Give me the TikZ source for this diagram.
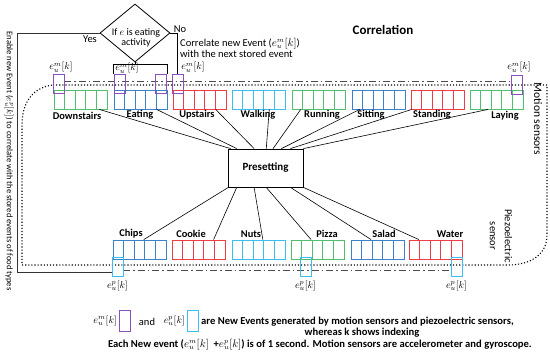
\documentclass[tikz,border=0pt]{standalone}
\usepackage{fontspec}
\setmainfont{Carlito}
\usetikzlibrary{calc,shapes.geometric}
\definecolor{cgreen}{RGB}{80,190,110}
\definecolor{cblue}{RGB}{60,130,200}
\definecolor{cred}{RGB}{240,60,70}
\definecolor{ccyan}{RGB}{60,190,240}
\definecolor{cpurple}{RGB}{140,80,190}
\begin{document}
\begin{tikzpicture}[x=1pt,y=-1pt,
  blk/.style={draw, line width=0.9pt, minimum width=53pt, minimum height=19pt, inner sep=0pt},
  evm/.style={draw=cpurple, line width=0.8pt, minimum width=11pt, minimum height=19pt, inner sep=0pt},
  evp/.style={draw=ccyan, line width=0.8pt, minimum width=11pt, minimum height=19pt, inner sep=0pt},
  lbl/.style={font=\fontsize{10.4}{12}\selectfont\bfseries, inner sep=0pt},
  elbl/.style={font=\fontsize{10}{11}\selectfont, inner sep=0pt},
  txt/.style={font=\fontsize{10.5}{9.5}\selectfont, inner sep=0pt},
  legt/.style={font=\fontsize{10.6}{12}\selectfont\bfseries, inner sep=0pt},
  conn/.style={line width=0.6pt, black},
  dotln/.style={line width=1.1pt, dotted, black},
  dashdot/.style={line width=0.9pt, black!70, dash pattern=on 7pt off 3pt on 1.5pt off 3pt},
]
\useasboundingbox (0,0) rectangle (550,352);

% dotted enclosure
\draw[dotln] (53,85) -- (547,85) -- (547,235) .. controls (547,255) and (530,265) .. (508,265) -- (22,265) -- (22,125) .. controls (22,100) and (35,87) .. (53,85);
% dash-dot lines
\draw[dashdot] (64,81) -- (510,81);
\draw[dashdot] (123,270) -- (451,270);

% top activity blocks
\foreach \n/\x/\c in {dn/54/cgreen, ea/114/cblue, up/173/cred, wa/232/ccyan, ru/292/cgreen, si/352/cblue, st/411/cred, la/470/cgreen} {
  \node[blk, draw=\c] (\n) at (\x+26.5,99.5) {};
  \foreach \i in {1,2,3,4} \draw[\c, line width=0.9pt] (\x+\i*10.6,90) -- (\x+\i*10.6,109);
}
% bottom food blocks
\foreach \n/\x/\c in {ch/113/cblue, co/172/cred, nu/232/ccyan, pi/291/cgreen, sa/351/cblue, wt/409/cred} {
  \node[blk, draw=\c] (\n) at (\x+26.5,249.5) {};
  \foreach \i in {1,2,3,4} \draw[\c, line width=0.9pt] (\x+\i*10.6,240) -- (\x+\i*10.6,259);
}

% activity labels
\node[lbl] (ldn) at (77,116) {Downstairs};
\node[lbl] (lea) at (140,115) {Eating};
\node[lbl] (lup) at (197,115) {Upstairs};
\node[lbl] (lwa) at (258,115) {Walking};
\node[lbl] (lru) at (322,115) {Running};
\node[lbl] (lsi) at (371,115) {Sitting};
\node[lbl] (lst) at (432,115) {Standing};
\node[lbl] (lla) at (505,116) {Laying};
% food labels
\node[lbl] (lch) at (131,234) {Chips};
\node[lbl] (lco) at (191,234) {Cookie};
\node[lbl] (lnu) at (251,234) {Nuts};
\node[lbl] (lpi) at (327,234) {Pizza};
\node[lbl] (lsa) at (384,234) {Salad};
\node[lbl] (lwt) at (450,234) {Water};

% new event boxes
\node[evm] (m1) at (58.5,83.5) {};
\node[evm] (m2a) at (119.5,83.5) {};
\node[evm] (m2b) at (161,83.5) {};
\node[evm] (m3) at (177.5,83.5) {};
\node[evm] (m4) at (517,84.5) {};
\node[evp] (p1) at (117.5,266.5) {};
\node[evp] (p2) at (305.5,266.5) {};
\node[evp] (p3) at (456.5,266.5) {};

\node[elbl] (em1) at (61,67.5) {$e_u^m[k]$};
\node[elbl] (em2) at (127,68.5) {$e_u^m[k]$};
\node[elbl] (em3) at (193,67.5) {$e_u^m[k]$};
\node[elbl] (em4) at (519,67.5) {$e_u^m[k]$};
\node[elbl] (ep1) at (117.5,286) {$e_u^p[k]$};
\node[elbl] (ep2) at (305.5,286) {$e_u^p[k]$};
\node[elbl] (ep3) at (456.5,286) {$e_u^p[k]$};

% decision
\node[diamond, draw, line width=0.8pt, minimum width=70pt, minimum height=58pt, inner sep=0pt] (dec) at (135,33) {};
\node[font=\fontsize{10}{10}\selectfont, align=center, inner sep=0pt] (dect) at (136,38) {If $e$ is eating\\activity};
\node[txt] (yes) at (90,39) {Yes};
\node[txt] (no) at (180,29) {No};
\coordinate (yc) at (17,33);
\coordinate (brk) at (135,64);
\draw[line width=0.8pt, black!80] (dec.west) -- (yc) |- ([yshift=-5.5pt]p1.west);
\draw[conn] (dec.east) -| (m3.north);
\draw[conn] (dec.south) -- (brk);
\draw[conn] (m2a.north west) -- (m2a.north west |- brk) -- (m2b.north east |- brk) -- (m2b.north east);

% texts
\node[font=\fontsize{13}{14}\selectfont\bfseries, inner sep=0pt] (corr) at (383,30) {Correlation};
\node[txt, anchor=west, align=left] (corrtxt) at (180,47.5) {Correlate new Event ($e_u^m[k]$)\\with the next stored event};
\node[font=\fontsize{8.6}{9}\selectfont, rotate=-90, inner sep=0pt] (enable) at (9,161) {Enable new Event ($e_u^p[k]$) to correlate with the stored events of food types};
\node[font=\fontsize{11.5}{12}\selectfont, rotate=-90, inner sep=0pt] (motion) at (538,119) {Motion sensors};
\node[font=\fontsize{10.5}{11}\selectfont, rotate=-90, inner sep=0pt, align=center] (piezo) at (501,236) {Piezoelectric\\[4pt]sensor};

% presetting
\node[draw, line width=0.8pt, minimum width=75pt, minimum height=38pt, font=\fontsize{11}{12}\selectfont\bfseries] (pre) at (265.5,168) {Presetting};
\foreach \n/\a/\b in {dn/0.85/0.04, ea/0.8/0.12, up/0.8/0.35, wa/0.7/0.51, ru/0.17/0.6, si/0.15/0.71, st/0.02/0.83, la/0.34/1.0}
  \draw[conn] ($(\n.south west)!\a!(\n.south east)$) -- ($(pre.north west)!\b!(pre.north east)$);
\foreach \n/\a/\b in {ch/0.58/0.01, co/0.78/0.12, nu/0.58/0.35, pi/0.38/0.51, sa/0.38/0.83, wt/0.19/1.0}
  \draw[conn] ($(\n.north west)!\a!(\n.north east)$) -- ($(pre.south west)!\b!(pre.south east)$);

% legend
\node[elbl, anchor=east] (lgm) at (117,321) {$e_u^m[k]$};
\node[evm, minimum height=21pt] (lgbm) at (124.5,320.5) {};
\node[txt] (lgand) at (147,322) {and};
\node[elbl, anchor=east] (lgp) at (185,321) {$e_u^p[k]$};
\node[evp, minimum height=21pt] (lgbp) at (192.5,320.5) {};
\node[legt, anchor=west] (lg1) at (201,322) {are New Events generated by motion sensors and piezoelectric sensors,};
\node[legt] (lg2) at (362,333) {whereas k shows indexing};
\node[legt, anchor=west] (lg3) at (108,344.5) {Each New event ($e_u^m[k]$ \ +$e_u^p[k]$) is of 1 second. Motion sensors are accelerometer and gyroscope.};
\end{tikzpicture}
\end{document}
